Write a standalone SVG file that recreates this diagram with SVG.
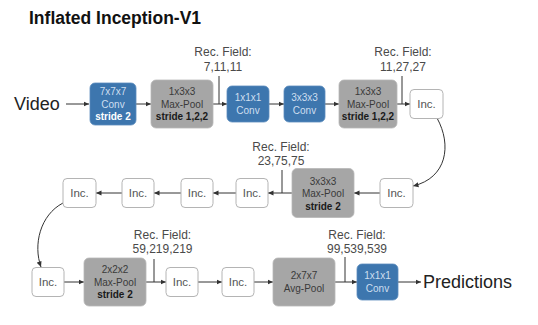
<svg xmlns="http://www.w3.org/2000/svg" width="538" height="325" viewBox="0 0 538 325">
<defs>
<marker id="ah" markerUnits="userSpaceOnUse" markerWidth="6" markerHeight="6" refX="5.5" refY="3" orient="auto">
<path d="M0,0.5 L5.5,3 L0,5.5 z" fill="#333"/>
</marker>
<style>
text{font-family:"Liberation Sans",Arial,sans-serif}
.title{font-size:17.5px;font-weight:bold;fill:#111}
.big{font-size:18px;fill:#222}
.rf{font-size:12px;fill:#4a4a4a;text-anchor:middle}
.blue{fill:#3d76ae;stroke:#5a8cbd;stroke-width:0.8}
.gray{fill:#a6a6a6;stroke:#b8b8b8;stroke-width:0.8}
.inc{fill:#fff;stroke:#b4b4b4;stroke-width:1}
.bt{font-size:10px;fill:#cfdff0;text-anchor:middle}
.bb{font-size:10px;fill:#fff;font-weight:bold;text-anchor:middle}
.gt{font-size:10px;fill:#3a3a3a;text-anchor:middle}
.gb{font-size:10px;fill:#1a1a1a;font-weight:bold;text-anchor:middle}
.it{font-size:11.5px;fill:#555;text-anchor:middle}
.ln{stroke:#333;stroke-width:1;fill:none}
.ar{stroke:#333;stroke-width:1;fill:none;marker-end:url(#ah)}
</style>
</defs>
<rect width="538" height="325" fill="#fff"/>
<text class="title" x="29" y="24">Inflated Inception-V1</text>

<g id="connectors">
<line class="ar" x1="66" y1="104" x2="89" y2="104"/>
<line class="ar" x1="136" y1="104" x2="151" y2="104"/>
<line class="ar" x1="213" y1="104" x2="227" y2="104"/>
<line class="ln" x1="219" y1="76" x2="219" y2="104"/>
<line class="ar" x1="269" y1="104" x2="284" y2="104"/>
<line class="ar" x1="325" y1="104" x2="339" y2="104"/>
<line class="ar" x1="397" y1="104" x2="410" y2="104"/>
<line class="ln" x1="402" y1="76" x2="402" y2="104"/>
<path class="ar" d="M437,118 C452,145 447,178 413,186"/>
<line class="ar" x1="380" y1="193" x2="354" y2="193"/>
<line class="ar" x1="292" y1="193" x2="268" y2="193"/>
<line class="ln" x1="282" y1="170" x2="282" y2="193"/>
<line class="ar" x1="236" y1="193" x2="213" y2="193"/>
<line class="ar" x1="181" y1="193" x2="154" y2="193"/>
<line class="ar" x1="122" y1="193" x2="96" y2="193"/>
<path class="ar" d="M63,203 C40,215 33,245 41,267"/>
<line class="ar" x1="64" y1="282" x2="84" y2="282"/>
<line class="ar" x1="146" y1="282" x2="166" y2="282"/>
<line class="ln" x1="154" y1="259" x2="154" y2="282"/>
<line class="ar" x1="198" y1="282" x2="222" y2="282"/>
<line class="ar" x1="254" y1="282" x2="273" y2="282"/>
<line class="ar" x1="335" y1="282" x2="357" y2="282"/>
<line class="ln" x1="345" y1="257" x2="345" y2="282"/>
<line class="ar" x1="398" y1="282" x2="421" y2="282"/>
</g>

<g id="video"><text class="big" x="14" y="110">Video</text></g>

<g id="conv7">
<rect class="blue" x="90" y="83" width="46" height="42" rx="5"/>
<text class="bt" x="113" y="95">7x7x7</text>
<text class="bt" x="113" y="107.5">Conv</text>
<text class="bb" x="113" y="120">stride 2</text>
</g>
<g id="pool1">
<rect class="gray" x="151" y="80" width="62" height="48" rx="5"/>
<text class="gt" x="182" y="95">1x3x3</text>
<text class="gt" x="182" y="107.5">Max-Pool</text>
<text class="gb" x="182" y="120">stride 1,2,2</text>
</g>
<g id="rf1">
<text class="rf" x="223" y="56">Rec. Field:</text>
<text class="rf" x="223" y="71">7,11,11</text>
</g>
<g id="conv1">
<rect class="blue" x="227" y="86" width="42" height="36" rx="5"/>
<text class="bt" x="248" y="101">1x1x1</text>
<text class="bt" x="248" y="113.5">Conv</text>
</g>
<g id="conv3">
<rect class="blue" x="284" y="86" width="41" height="36" rx="5"/>
<text class="bt" x="304.5" y="101">3x3x3</text>
<text class="bt" x="304.5" y="113.5">Conv</text>
</g>
<g id="pool2">
<rect class="gray" x="339" y="80" width="58" height="48" rx="5"/>
<text class="gt" x="368" y="95">1x3x3</text>
<text class="gt" x="368" y="107.5">Max-Pool</text>
<text class="gb" x="368" y="120">stride 1,2,2</text>
</g>
<g id="rf2">
<text class="rf" x="403" y="56">Rec. Field:</text>
<text class="rf" x="403" y="71">11,27,27</text>
</g>
<g id="inc1">
<rect class="inc" x="410" y="89.5" width="33" height="29" rx="4"/>
<text class="it" x="426.5" y="108">Inc.</text>
</g>

<g id="inc2">
<rect class="inc" x="380" y="178.5" width="33" height="29" rx="4"/>
<text class="it" x="396.5" y="197">Inc.</text>
</g>
<g id="pool3">
<rect class="gray" x="292" y="168.5" width="62" height="49" rx="5"/>
<text class="gt" x="323" y="184.5">3x3x3</text>
<text class="gt" x="323" y="197">Max-Pool</text>
<text class="gb" x="323" y="209.5">stride 2</text>
</g>
<g id="rf3">
<text class="rf" x="281" y="151">Rec. Field:</text>
<text class="rf" x="281" y="165">23,75,75</text>
</g>
<g id="inc3">
<rect class="inc" x="236" y="178.5" width="32" height="29" rx="4"/>
<text class="it" x="252" y="197">Inc.</text>
</g>
<g id="inc4">
<rect class="inc" x="181" y="178.5" width="32" height="29" rx="4"/>
<text class="it" x="197" y="197">Inc.</text>
</g>
<g id="inc5">
<rect class="inc" x="122" y="178.5" width="32" height="29" rx="4"/>
<text class="it" x="138" y="197">Inc.</text>
</g>
<g id="inc6">
<rect class="inc" x="63" y="178.5" width="33" height="29" rx="4"/>
<text class="it" x="79.5" y="197">Inc.</text>
</g>

<g id="inc7">
<rect class="inc" x="32" y="267.5" width="32" height="29" rx="4"/>
<text class="it" x="48" y="286">Inc.</text>
</g>
<g id="pool4">
<rect class="gray" x="84" y="258" width="62" height="48" rx="5"/>
<text class="gt" x="115" y="273">2x2x2</text>
<text class="gt" x="115" y="285.5">Max-Pool</text>
<text class="gb" x="115" y="298">stride 2</text>
</g>
<g id="rf4">
<text class="rf" x="162.5" y="239">Rec. Field:</text>
<text class="rf" x="162.5" y="253">59,219,219</text>
</g>
<g id="inc8">
<rect class="inc" x="166" y="267.5" width="32" height="29" rx="4"/>
<text class="it" x="182" y="286">Inc.</text>
</g>
<g id="inc9">
<rect class="inc" x="222" y="267.5" width="32" height="29" rx="4"/>
<text class="it" x="238" y="286">Inc.</text>
</g>
<g id="avgpool">
<rect class="gray" x="273" y="258" width="62" height="48" rx="5"/>
<text class="gt" x="304" y="279">2x7x7</text>
<text class="gt" x="304" y="292">Avg-Pool</text>
</g>
<g id="rf5">
<text class="rf" x="357" y="239">Rec. Field:</text>
<text class="rf" x="357" y="253">99,539,539</text>
</g>
<g id="convout">
<rect class="blue" x="357" y="264" width="41" height="36" rx="5"/>
<text class="bt" x="377.5" y="279">1x1x1</text>
<text class="bt" x="377.5" y="291.5">Conv</text>
</g>
<g id="predictions"><text class="big" x="423" y="288">Predictions</text></g>
</svg>
